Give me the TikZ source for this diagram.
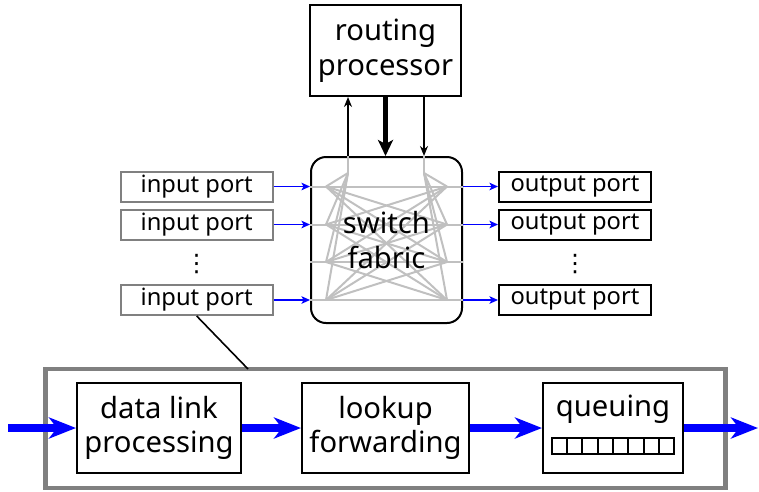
\documentclass[tikz,border=0pt]{standalone}
\usepackage{fontspec}
\setmainfont{Noto Sans}
\newfontfamily\symfont{DejaVu Sans}
\usepackage{xcolor}
\usepackage{tikz}
\usetikzlibrary{arrows.meta,positioning}
\definecolor{portgray}{HTML}{808080}
\definecolor{meshgray}{HTML}{C0C0C0}
\definecolor{flowblue}{HTML}{0000FF}
\tikzset{
  bigtext/.style={font=\fontsize{29.2}{34.5}\selectfont,align=center},
  smalltext/.style={font=\fontsize{23.7}{26}\selectfont},
  blockbox/.style={draw,line width=2pt,inner sep=0pt,bigtext},
  fabricbox/.style={draw,line width=2pt,rounded corners=15pt,minimum width=151pt,minimum height=166pt},
  portin/.style={draw=portgray,line width=2pt,minimum width=152pt,minimum height=30pt,inner sep=0pt,smalltext},
  portout/.style={draw,line width=2pt,minimum width=152pt,minimum height=30pt,inner sep=0pt,smalltext},
  dotsnode/.style={font=\symfont\fontsize{24}{26}\selectfont,inner sep=0pt},
  cardbox/.style={draw=portgray,line width=4.5pt,minimum width=680pt,minimum height=119pt,inner sep=0pt},
  cell/.style={draw,line width=2pt,minimum width=15.3pt,minimum height=16pt,inner sep=0pt},
  mesh/.style={meshgray,line width=2pt},
  ctrl/.style={-{Stealth[length=10pt,width=8pt]},line width=2pt},
  ctrlthick/.style={-{Stealth[length=16pt,width=15pt,inset=4pt]},line width=5.5pt},
  portarrow/.style={-{Stealth[length=8.5pt,width=7.5pt,inset=2pt]},flowblue,line width=1.6pt},
  flowarrow/.style={-{Stealth[length=27pt,width=21pt,inset=8pt]},flowblue,line width=7.5pt}
}
\begin{document}
\begin{tikzpicture}[x=1pt,y=-1pt]
  \useasboundingbox (0,0) rectangle (759,491);
  % router: processor and fabric
  \node[blockbox,minimum width=151pt,minimum height=91pt] (routing) at (385.5,50.5) {routing\\processor};
  \node[fabricbox] (fabric) at (386.5,240) {};
  \coordinate (tl) at (348,173);
  \coordinate (tr) at (424,173);
  \foreach \y [count=\i] in {186.5,224.5,262,300} {
    \coordinate (l\i) at (326,\y);
    \coordinate (r\i) at (447,\y);
  }
  \foreach \i in {1,...,4} {
    \draw[mesh] (l\i -| fabric.west) -- (l\i);
    \draw[mesh] (r\i) -- (r\i -| fabric.east);
    \draw[mesh] (tl) -- (l\i);
    \draw[mesh] (tr) -- (r\i);
    \foreach \j in {1,...,4}
      \draw[mesh] (l\i) -- (r\j);
  }
  \draw[mesh] (tl |- fabric.north) -- (tl);
  \draw[mesh] (tr |- fabric.north) -- (tr);
  \node[bigtext] (fabtext) at (fabric.center) {switch\\fabric};
  \draw[ctrl] (tl |- fabric.north) -- (tl |- routing.south);
  \draw[ctrlthick] (routing.south) -- (routing.south |- fabric.north);
  \draw[ctrl] (tr |- routing.south) -- (tr |- fabric.north);
  % ports
  \node[portin] (in1) at (196.7,186.5) {input port};
  \node[portin] (in2) at (196.7,224.5) {input port};
  \node[dotsnode] (indots) at (196.7,264) {⋮};
  \node[portin] (in3) at (196.7,300) {input port};
  \node[portout] (out1) at (575,186.5) {output port};
  \node[portout] (out2) at (575,224.5) {output port};
  \node[dotsnode] (outdots) at (575,264) {⋮};
  \node[portout] (out3) at (575,300) {output port};
  \draw[portarrow] (in1.east) -- (in1.east -| fabric.west);
  \draw[portarrow] (in2.east) -- (in2.east -| fabric.west);
  \draw[portarrow] (in3.east) -- (in3.east -| fabric.west);
  \draw[portarrow] (out1.west -| fabric.east) -- (out1.west);
  \draw[portarrow] (out2.west -| fabric.east) -- (out2.west);
  \draw[portarrow] (out3.west -| fabric.east) -- (out3.west);
  % input port detail
  \node[cardbox] (card) at (385.5,428.5) {};
  \coordinate (cardtop) at (248,369);
  \draw[line width=1.6pt] (in3.south) -- (cardtop);
  \node[blockbox,minimum width=164pt,minimum height=90pt] (datalink) at (159,428) {data link\\processing};
  \node[blockbox,minimum width=167pt,minimum height=90pt] (lookup) at (385.5,428) {lookup\\forwarding};
  \node[blockbox,minimum width=140pt,minimum height=90pt] (queue) at (613,428) {};
  \node[bigtext,anchor=base] (qlabel) at (613,416) {queuing};
  \foreach \k in {0,...,7}
    \node[cell] (cell\k) at (559.4+\k*15.3,446.3) {};
  \coordinate (flowin) at (8,428);
  \coordinate (flowout) at (758,428);
  \draw[flowarrow] (flowin) -- (datalink.west);
  \draw[flowarrow] (datalink.east) -- (lookup.west);
  \draw[flowarrow] (lookup.east) -- (queue.west);
  \draw[flowarrow] (queue.east) -- (flowout);
\end{tikzpicture}
\end{document}
